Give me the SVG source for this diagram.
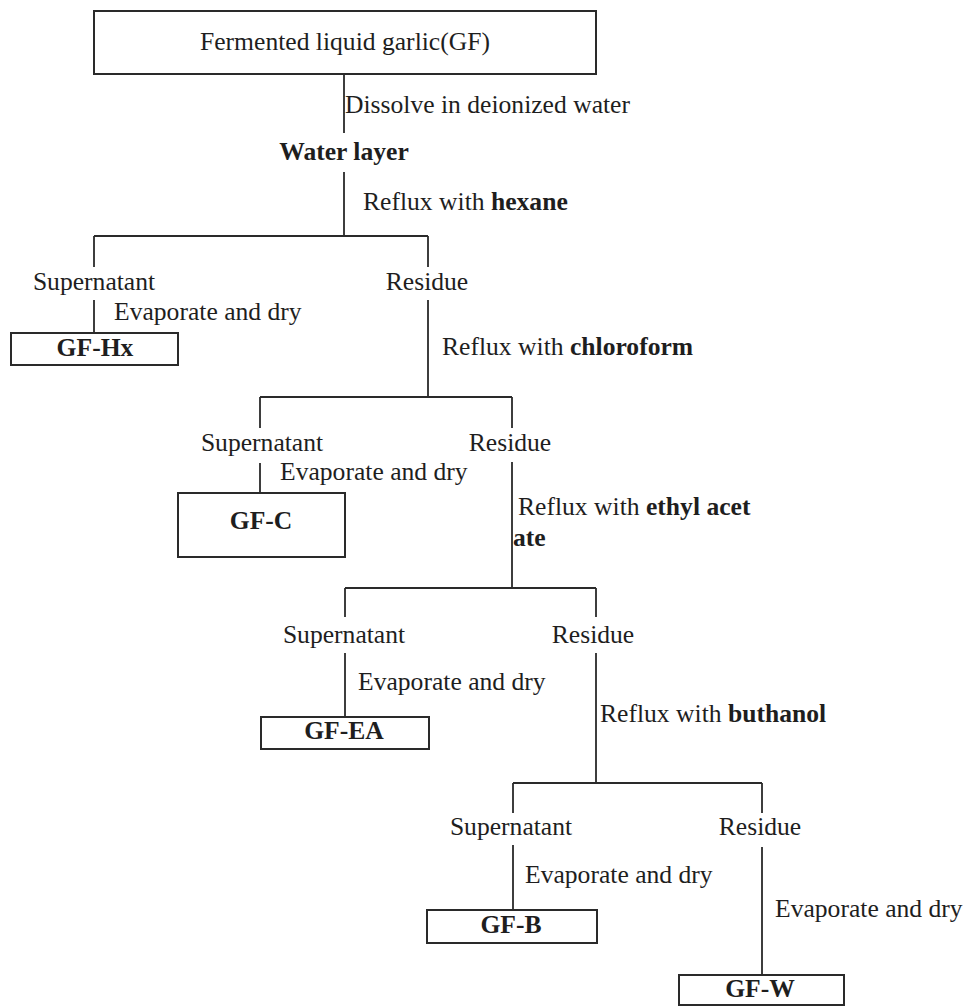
<svg xmlns="http://www.w3.org/2000/svg" width="968" height="1007" viewBox="0 0 968 1007">
<style>
text{font-family:"Liberation Serif","Times New Roman",serif;font-size:25.6px;fill:#1e1e1e}
.b{font-weight:bold}
.m{text-anchor:middle}
.box{fill:#fff;stroke:#2a2a2a;stroke-width:2}
.ln{stroke:#2a2a2a;stroke-width:1.8;fill:none}
</style>
<rect width="968" height="1007" fill="#fff"/>
<g id="connectors">
<path class="ln" d="M344 74V133M344 172V236M94 236H428M94 236V267M94 300V333M428 236V267M428 300V397M260 397H512M260 397V428M260 463V493M512 397V428M512 462V588M345 588H596M345 588V617M345 653V717M596 588V617M596 653V783M513 783H762M513 783V813M513 845V910M762 783V813M762 847V975"/>
</g>
<g id="n-gf"><rect class="box" x="94" y="11" width="502" height="63"/><text class="m" x="345" y="50">Fermented liquid garlic(GF)</text></g>
<g id="l-dissolve"><text x="345" y="113">Dissolve in deionized water</text></g>
<g id="n-water"><text class="m b" x="344" y="160">Water layer</text></g>
<g id="l-hexane"><text x="363" y="210">Reflux with <tspan class="b">hexane</tspan></text></g>
<g id="n-sup1"><text class="m" x="94" y="290">Supernatant</text></g>
<g id="n-res1"><text class="m" x="427" y="290">Residue</text></g>
<g id="l-evap1"><text x="114" y="320">Evaporate and dry</text></g>
<g id="n-gfhx"><rect class="box" x="11" y="333" width="167" height="32"/><text class="m b" x="95" y="356">GF-Hx</text></g>
<g id="l-chloro"><text x="442" y="355">Reflux with <tspan class="b">chloroform</tspan></text></g>
<g id="n-sup2"><text class="m" x="262" y="451">Supernatant</text></g>
<g id="n-res2"><text class="m" x="510" y="451">Residue</text></g>
<g id="l-evap2"><text x="280" y="480">Evaporate and dry</text></g>
<g id="n-gfc"><rect class="box" x="178" y="493" width="167" height="64"/><text class="m b" x="261" y="529">GF-C</text></g>
<g id="l-ethyl"><text x="518" y="515">Reflux with <tspan class="b">ethyl acet</tspan></text><text class="b" x="513" y="546">ate</text></g>
<g id="n-sup3"><text class="m" x="344" y="643">Supernatant</text></g>
<g id="n-res3"><text class="m" x="593" y="643">Residue</text></g>
<g id="l-evap3"><text x="358" y="690">Evaporate and dry</text></g>
<g id="n-gfea"><rect class="box" x="261" y="717" width="168" height="32"/><text class="m b" x="344" y="739">GF-EA</text></g>
<g id="l-buth"><text x="600" y="722">Reflux with <tspan class="b">buthanol</tspan></text></g>
<g id="n-sup4"><text class="m" x="511" y="835">Supernatant</text></g>
<g id="n-res4"><text class="m" x="760" y="835">Residue</text></g>
<g id="l-evap4"><text x="525" y="883">Evaporate and dry</text></g>
<g id="n-gfb"><rect class="box" x="427" y="910" width="170" height="33"/><text class="m b" x="511" y="933">GF-B</text></g>
<g id="l-evap5"><text x="775" y="917">Evaporate and dry</text></g>
<g id="n-gfw"><rect class="box" x="679" y="975" width="165" height="30"/><text class="m b" x="760" y="997">GF-W</text></g>
</svg>
